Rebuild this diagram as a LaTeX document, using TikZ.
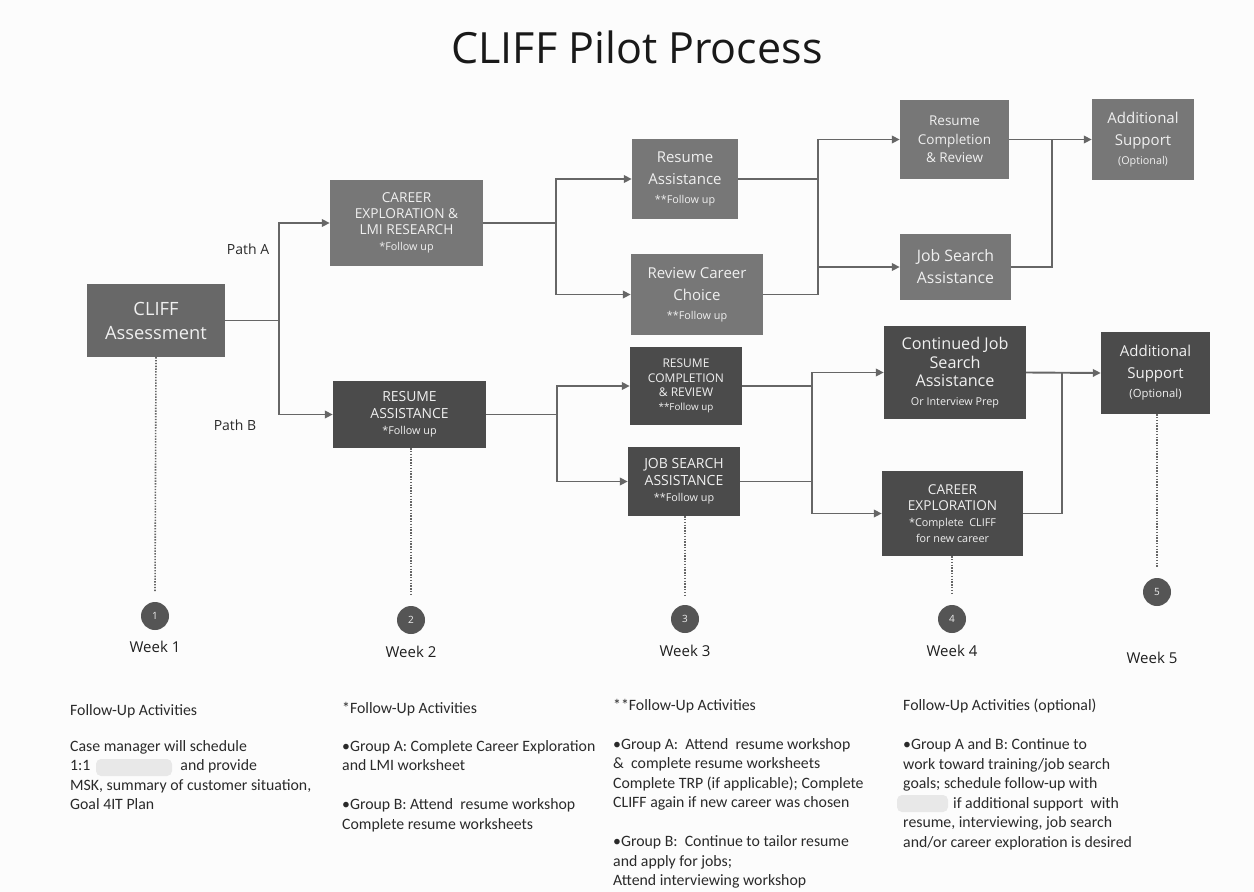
\documentclass[tikz,border=0pt]{standalone}
\usepackage{fontspec}
\setmainfont{Open Sans}
\newfontfamily\bodyfont{Carlito}
\usetikzlibrary{arrows.meta}
\definecolor{bg}{HTML}{FCFCFC}
\definecolor{boxa}{HTML}{777777}
\definecolor{boxm}{HTML}{686868}
\definecolor{boxb}{HTML}{4B4B4B}
\definecolor{boxtxt}{HTML}{F0F0F0}
\definecolor{linec}{HTML}{666666}
\definecolor{txt}{HTML}{2A2A2A}
\definecolor{circ}{HTML}{555555}
\newcommand\smalltxt[1]{{\fontsize{10.8}{13}\selectfont #1}}
\tikzset{
  boxbase/.style={inner sep=0pt, align=center, text=boxtxt, font=\fontsize{15}{22}\selectfont},
  boxA/.style={boxbase, fill=boxa},
  boxM/.style={boxbase, fill=boxm},
  boxB/.style={boxbase, fill=boxb},
  conn/.style={draw=linec, line width=1.9pt},
  arr/.style={conn, -{Triangle[length=8pt,width=7.5pt]}},
  dots/.style={draw=linec, line width=1.6pt, dash pattern=on 1.4pt off 1.4pt},
  wkcirc/.style={circle, fill=circ, minimum size=28pt, inner sep=0pt, text=boxtxt, font=\fontsize{10}{12}\selectfont},
  wklabel/.style={text=black!88, font=\fontsize{15}{18}\selectfont},
  pathlabel/.style={text=txt, font=\fontsize{14}{17}\selectfont},
  body/.style={anchor=north west, align=left, text=txt, inner sep=0pt, font=\bodyfont\fontsize{15.8}{19.5}\selectfont},
  blob/.style={fill=black!9, draw=none, rounded corners=5pt}
}
\begin{document}
\begin{tikzpicture}[x=1pt, y=-1pt]
\useasboundingbox (0,0) rectangle (1254,892);
\fill[bg] (0,0) rectangle (1254,892);

% title
\node[text=black!90, font=\fontsize{43}{50}\selectfont] (title) at (637,47) {CLIFF Pilot Process};

% boxes
\node[boxM, minimum width=138pt, minimum height=73pt, font=\fontsize{18.3}{24}\selectfont] (cliff) at (156,320.5) {CLIFF\\Assessment};
\node[boxA, minimum width=153pt, minimum height=86pt, font=\fontsize{13.7}{16}\selectfont] (career) at (406.5,223) {CAREER\\EXPLORATION \&\\LMI RESEARCH\\[0pt]\smalltxt{*Follow up}};
\node[boxB, minimum width=153pt, minimum height=67pt, font=\fontsize{13.9}{16.5}\selectfont] (resB) at (409.5,414.5) {RESUME\\ASSISTANCE\\[0pt]\smalltxt{*Follow up}};

\node[boxA, minimum width=106pt, minimum height=80pt, font=\fontsize{15}{22}\selectfont] (resA) at (685,179) {Resume\\Assistance\\[-3pt]\smalltxt{**Follow up}};
\node[boxA, minimum width=132pt, minimum height=81pt, font=\fontsize{15}{22}\selectfont] (review) at (697,294.5) {Review Career\\Choice\\[-3pt]\smalltxt{**Follow up}};

\node[boxA, minimum width=109pt, minimum height=79pt, font=\fontsize{13.5}{18.5}\selectfont] (rcrA) at (954.5,139.5) {Resume\\Completion\\\& Review};
\node[boxA, minimum width=111pt, minimum height=66pt, font=\fontsize{15.8}{22}\selectfont] (jsA) at (955.5,267) {Job Search\\Assistance};
\node[boxA, minimum width=102pt, minimum height=81pt, font=\fontsize{15}{22}\selectfont] (addA) at (1143,139.5) {Additional\\Support\\[-3pt]\smalltxt{(Optional)}};

\node[boxB, minimum width=112pt, minimum height=78pt, font=\fontsize{12}{14.3}\selectfont] (rcrB) at (686,386) {RESUME\\COMPLETION\\\& REVIEW\\[0pt]{\fontsize{9.8}{12}\selectfont **Follow up}};
\node[boxB, minimum width=112pt, minimum height=69pt, font=\fontsize{14}{16.5}\selectfont] (jsB) at (684,481.5) {JOB SEARCH\\ASSISTANCE\\[0pt]\smalltxt{**Follow up}};

\node[boxB, minimum width=142pt, minimum height=93pt, font=\fontsize{16.2}{18.5}\selectfont] (cont) at (955,372.5) {Continued Job\\Search\\Assistance\\[0pt]\smalltxt{Or Interview Prep}};
\node[boxB, minimum width=141pt, minimum height=85pt, font=\fontsize{13.6}{16}\selectfont] (carB) at (952.5,513.5) {CAREER\\EXPLORATION\\\smalltxt{*Complete\ \ CLIFF}\\\smalltxt{for new career}};
\node[boxB, minimum width=109pt, minimum height=82pt, font=\fontsize{15}{22}\selectfont] (addB) at (1155.5,373) {Additional\\Support\\[-3pt]{\fontsize{11.3}{13}\selectfont (Optional)}};

% path labels
\node[pathlabel] (pA) at (248,249) {Path A};
\node[pathlabel] (pB) at (235,425) {Path B};

% junction coordinates
\coordinate (j1) at (279,320.5);
\coordinate (j2) at (556,223);
\coordinate (j3a) at (818,179);
\coordinate (j3b) at (818,294.5);
\coordinate (j4) at (1052,139.5);
\coordinate (j5) at (557,414.5);
\coordinate (j6a) at (812,386);
\coordinate (j6b) at (812,481.5);
\coordinate (j7) at (1062,372.5);

% connectors
\draw[conn] (cliff.east) -- (j1);
\draw[arr] (j1) |- (career.west);
\draw[arr] (j1) |- (resB.west);

\draw[conn] (career.east) -- (j2);
\draw[arr] (j2) |- (resA.west);
\draw[arr] (j2) |- (review.west);

\draw[conn] (resA.east) -- (j3a);
\draw[conn] (review.east) -- (j3b);
\draw[conn] (j3a) -- (j3b);
\draw[arr] (j3a) |- (rcrA.west);
\draw[arr] (j3b) |- (jsA.west);

\draw[arr] (rcrA.east) -- (addA.west);
\draw[conn] (jsA.east) -| (j4);

\draw[conn] (resB.east) -- (j5);
\draw[arr] (j5) |- (rcrB.west);
\draw[arr] (j5) |- (jsB.west);

\draw[conn] (rcrB.east) -- (j6a);
\draw[conn] (jsB.east) -- (j6b);
\draw[conn] (j6a) -- (j6b);
\draw[arr] (j6a) |- (cont.west);
\draw[arr] (j6b) |- (carB.west);

\draw[arr] (cont.east) -- (addB.west);
\draw[conn] (carB.east) -| (j7);

% week markers
\node[wkcirc] (c1) at (155,616) {1};
\node[wkcirc] (c2) at (411,620) {2};
\node[wkcirc] (c3) at (685,619) {3};
\node[wkcirc] (c4) at (952,619) {4};
\node[wkcirc] (c5) at (1157,592) {5};

\draw[dots] (cliff.south) -- ([yshift=10pt]c1.north);
\draw[dots] (resB.south -| c2) -- ([yshift=10pt]c2.north);
\draw[dots] (jsB.south -| c3) -- ([yshift=10pt]c3.north);
\draw[dots] (carB.south -| c4) -- ([yshift=10pt]c4.north);
\draw[dots] (addB.south -| c5) -- ([yshift=10pt]c5.north);

\node[wklabel] (w1) at (155,647) {Week 1};
\node[wklabel] (w2) at (411,652) {Week 2};
\node[wklabel] (w3) at (685,651) {Week 3};
\node[wklabel] (w4) at (952,651) {Week 4};
\node[wklabel] (w5) at (1152,658) {Week 5};

% blurred blobs
\fill[blob] (96,759) rectangle (172,776);
\fill[blob] (897,795) rectangle (948,812);

% follow-up texts
\node[body] (t1) at (70,704) {Follow-Up Activities\\[16.5pt]
Case manager will schedule\\
1:1\hspace{90pt}and provide\\
MSK, summary of customer situation,\\
Goal 4IT Plan};

\node[body] (t2) at (342,702) {*Follow-Up Activities\\[18.5pt]
\textbullet Group A: Complete Career Exploration\\
and LMI worksheet\\[19.5pt]
\textbullet Group B: Attend\ \ resume workshop\\
Complete resume worksheets};

\node[body] (t3) at (613,699) {**Follow-Up Activities\\[19.5pt]
\textbullet Group A:\ \ Attend\ \ resume workshop\\
\&\ \ complete resume worksheets\\
Complete TRP (if applicable); Complete\\
CLIFF again if new career was chosen\\[19.5pt]
\textbullet Group B:\ \ Continue to tailor resume\\
and apply for jobs;\\
Attend interviewing workshop};

\node[body] (t4) at (903,699) {Follow-Up Activities (optional)\\[19.5pt]
\textbullet Group A and B: Continue to\\
work toward training/job search\\
goals; schedule follow-up with\\
\hspace{50pt}if additional support\ \ with\\
resume, interviewing, job search\\
and/or career exploration is desired};
\end{tikzpicture}
\end{document}
